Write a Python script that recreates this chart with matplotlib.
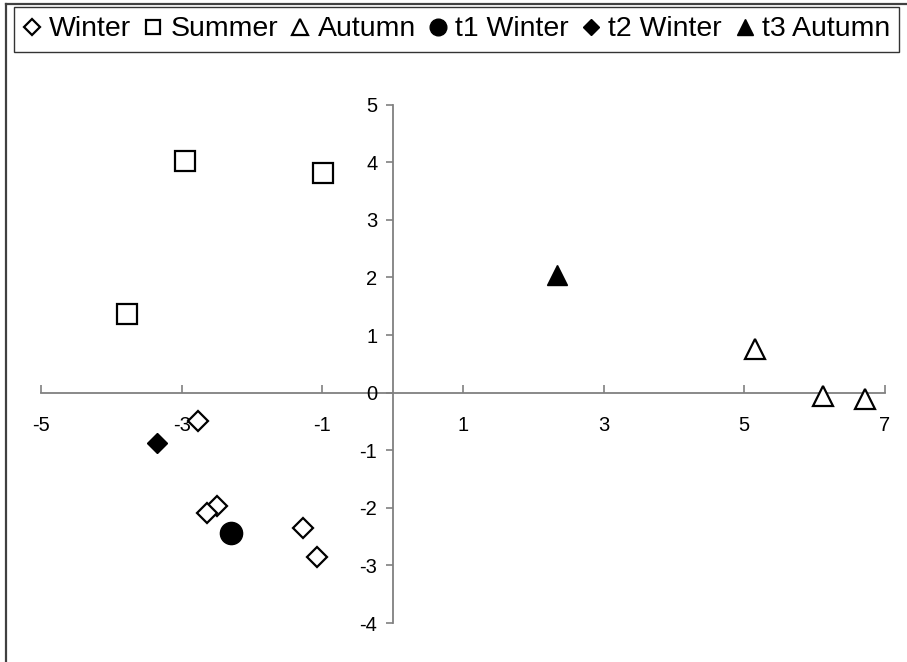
import matplotlib.pyplot as plt
from matplotlib.lines import Line2D

plt.rcParams['font.family'] = ['Liberation Sans', 'DejaVu Sans']
plt.rcParams['axes.unicode_minus'] = False

# point coordinates for each group
winter_x = [-2.77, -2.50, -2.64, -1.27, -1.08]
winter_y = [-0.49, -1.97, -2.09, -2.35, -2.85]
summer_x = [-2.95, -0.99, -3.78]
summer_y = [4.02, 3.81, 1.36]
autumn_x = [5.15, 6.12, 6.71]
autumn_y = [0.76, -0.06, -0.11]
t1_winter = ([-2.30], [-2.43])
t2_winter = ([-3.35], [-0.87])
t3_autumn = ([2.34], [2.04])

x_ticks = [-5, -3, -1, 1, 3, 5, 7]
y_ticks = [-4, -3, -2, -1, 0, 1, 2, 3, 4, 5]

fig = plt.figure(figsize=(9.07, 6.62), dpi=100)
ax = fig.add_axes([0.0452, 0.0589, 0.9305, 0.7829])

open_style = dict(linestyle='none', markerfacecolor='white', markeredgecolor='black',
                  markeredgewidth=1.6)
ax.plot(winter_x, winter_y, marker='D', markersize=10.5, label='Winter', **open_style)
ax.plot(summer_x, summer_y, marker='s', markersize=14, label='Summer', **open_style)
ax.plot(autumn_x, autumn_y, marker='^', markersize=15, label='Autumn', **open_style)
ax.plot(*t1_winter, marker='o', markersize=16, color='black', linestyle='none', label='t1 Winter')
ax.plot(*t2_winter, marker='D', markersize=10.5, color='black', linestyle='none', label='t2 Winter')
ax.plot(*t3_autumn, marker='^', markersize=15, color='black', linestyle='none', label='t3 Autumn')

ax.set_xlim(-5, 7)
ax.set_ylim(-4, 5)
ax.set_xticks(x_ticks)
ax.set_yticks(y_ticks)

# axes cross at the origin
for side in ['top', 'right']:
    ax.spines[side].set_visible(False)
for side in ['left', 'bottom']:
    ax.spines[side].set_position(('data', 0))
    ax.spines[side].set_color('#808080')
    ax.spines[side].set_linewidth(1.3)
    ax.spines[side].set_zorder(0)

ax.tick_params(axis='x', direction='in', length=6, width=1.2, color='#808080',
               labelsize=14.5, pad=17)
ax.tick_params(axis='y', direction='out', length=5, width=1.2, color='#808080',
               labelsize=14.5, pad=6)
ax.patch.set_visible(False)

# chart area border (left and top edges only)
fig.add_artist(Line2D([6 / 907, 6 / 907], [0, 1 - 4 / 662], color='#404040', linewidth=1.6))
fig.add_artist(Line2D([6 / 907, 1], [1 - 4 / 662, 1 - 4 / 662], color='#404040', linewidth=1.6))

leg = fig.legend(loc='center left', mode='expand', ncol=6,
                 bbox_to_anchor=(14 / 907, 1 - 49 / 662, 885 / 907, 39 / 662),
                 fontsize=20.5, markerscale=0.75, handlelength=0.6, handletextpad=0.3,
                 columnspacing=0.2, borderpad=0.32, borderaxespad=0, fancybox=False,
                 framealpha=1, edgecolor='#333333')
leg.get_frame().set_linewidth(1.0)

plt.savefig('out.png', dpi=100)
